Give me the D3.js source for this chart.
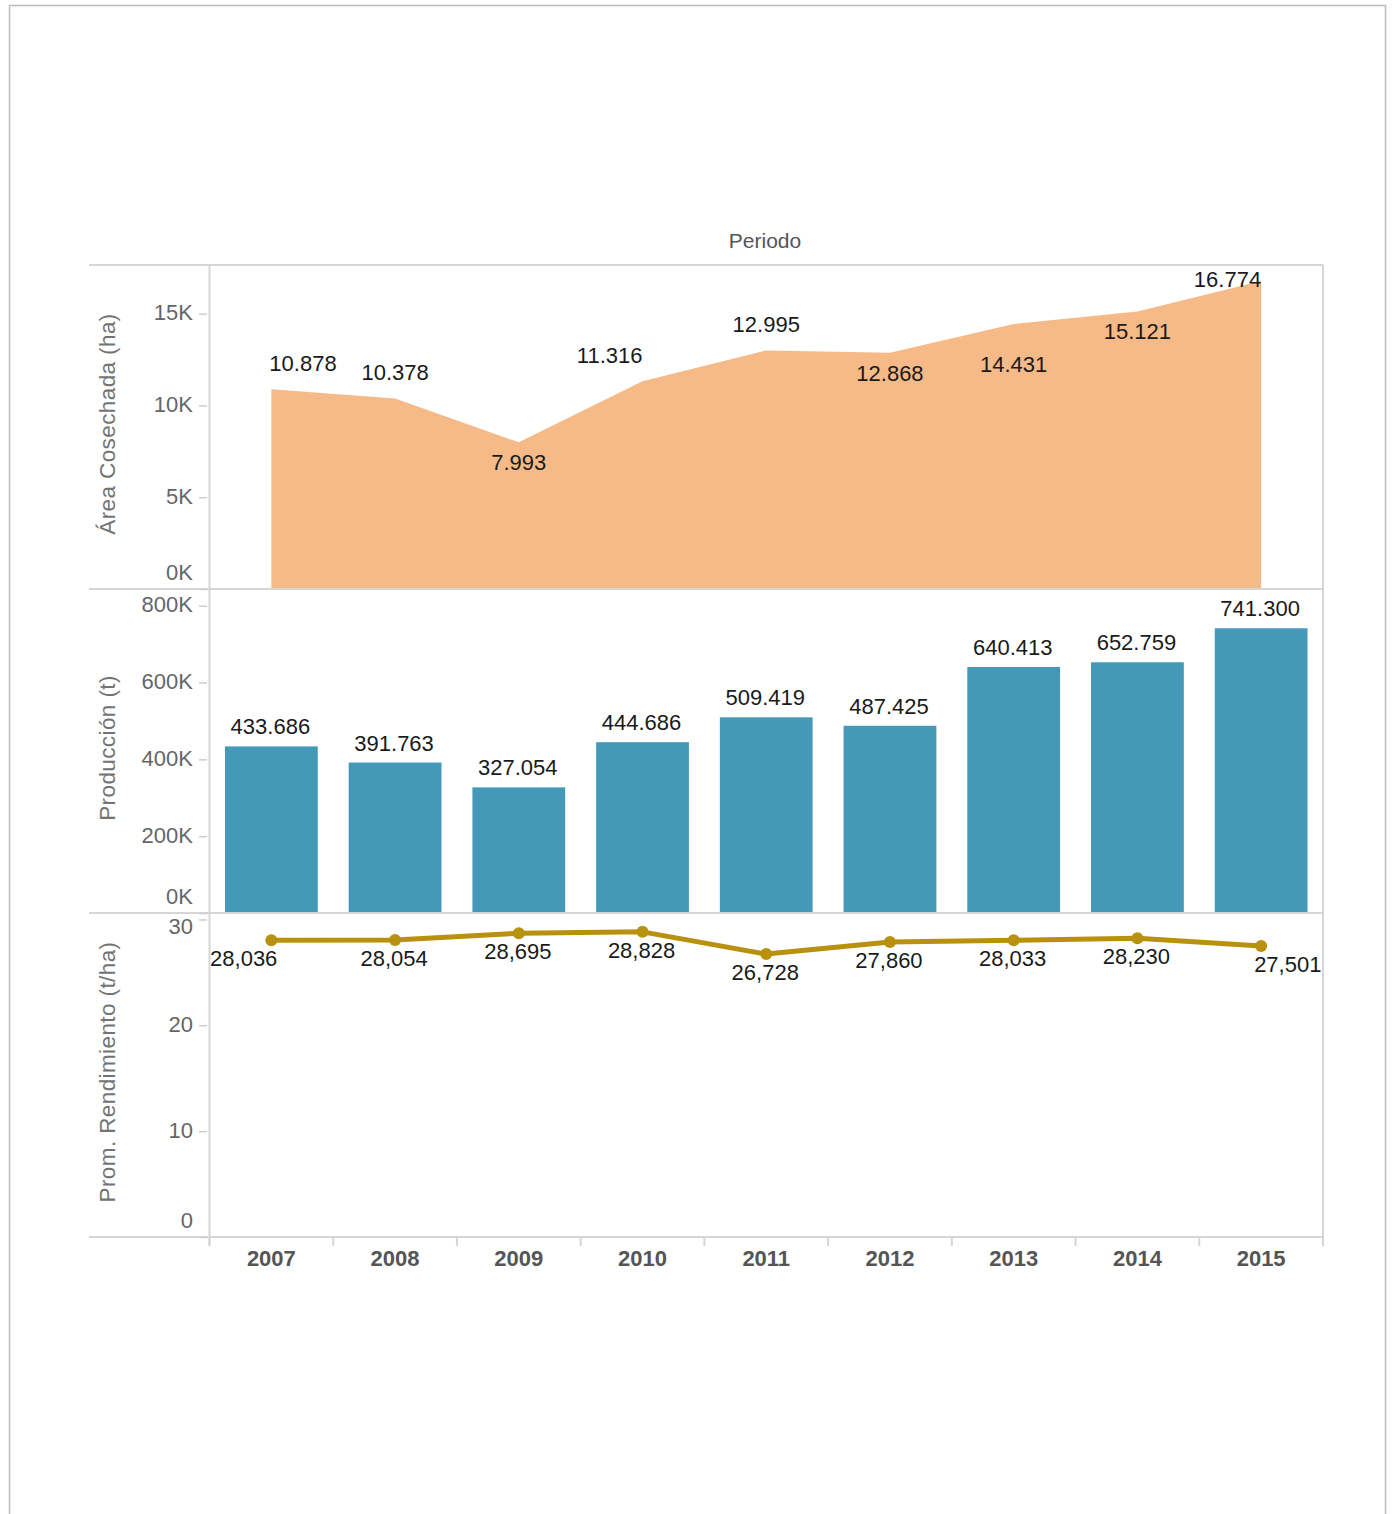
<!DOCTYPE html>
<html>
<head>
<meta charset="utf-8">
<script src="https://cdn.jsdelivr.net/npm/d3@7/dist/d3.min.js"></script>
<style>
  html, body { margin: 0; padding: 0; background: #fff; }
  svg text { font-family: "Liberation Sans", Arial, sans-serif; }
</style>
</head>
<body>
<svg id="chart" width="1394" height="1514"></svg>
<script>
// ---- Data ----
const years = ["2007","2008","2009","2010","2011","2012","2013","2014","2015"];
const areaValues = [10878, 10378, 7993, 11316, 12995, 12868, 14431, 15121, 16774];
const areaLabels = ["10.878","10.378","7.993","11.316","12.995","12.868","14.431","15.121","16.774"];
const areaLabelPlacement = ["above-start","above","below","above-end","above","below","below-far","below","above-end"];
const prodValues = [433686, 391763, 327054, 444686, 509419, 487425, 640413, 652759, 741300];
const prodLabels = ["433.686","391.763","327.054","444.686","509.419","487.425","640.413","652.759","741.300"];
const yieldValues = [28.036, 28.054, 28.695, 28.828, 26.728, 27.860, 28.033, 28.230, 27.501];
const yieldLabels = ["28,036","28,054","28,695","28,828","26,728","27,860","28,033","28,230","27,501"];
const yieldLabelPlacement = ["below-end","below","below","below","below","below","below","below","below-start"];
const areaTicks = [0, 5000, 10000, 15000];
const prodTicks = [0, 200000, 400000, 600000, 800000];
const yieldTicks = [0, 10, 20, 30];

// ---- Layout ----
const svg = d3.select("#chart");
const left = 209.5, right = 1323;
const panes = [265, 589, 913, 1237];
const gridColor = "#d6d6d6";

// outer border
svg.append("path").attr("d", "M9.5,1514 V5.5 H1385.5 V1514")
  .attr("fill", "none").attr("stroke", "#bdbdbd").attr("stroke-width", 1.5);

const x = d3.scaleBand().domain(years).range([left, right]).paddingInner(0.25).paddingOuter(0.125);
const cx = d => x(d) + x.bandwidth() / 2;

const yArea = d3.scaleLinear().domain([0, 17650]).range([panes[1], panes[0]]);
const yProd = d3.scaleLinear().domain([0, 843500]).range([panes[2], panes[1]]);
const yYield = d3.scaleLinear().domain([0, 30.61]).range([panes[3], panes[2]]);

// header
svg.append("text").attr("x", 765).attr("y", 248).attr("text-anchor", "middle")
  .attr("font-size", 21).attr("fill", "#555").text("Periodo");

// ---- Area panel ----
const areaGen = d3.area().x((d, i) => cx(years[i])).y0(yArea(0)).y1(d => yArea(d));
svg.append("path").datum(areaValues).attr("d", areaGen).attr("fill", "#F5BA87");

const lblFont = 22, lblColor = "#1a1a1a";
svg.append("g").selectAll("text").data(areaValues).join("text")
  .attr("font-size", lblFont).attr("fill", lblColor)
  .attr("x", (d, i) => cx(years[i]) + (areaLabelPlacement[i].endsWith("start") ? -2 : 0))
  .attr("text-anchor", (d, i) => {
    const p = areaLabelPlacement[i];
    return p.endsWith("start") ? "start" : p.endsWith("end") ? "end" : "middle";
  })
  .attr("y", (d, i) => {
    const p = areaLabelPlacement[i];
    const py = yArea(d);
    let b = p.startsWith("above") ? py - 18 : (p === "below-far" ? py + 48 : py + 28);
    return Math.max(b, panes[0] + 22);
  })
  .text((d, i) => areaLabels[i]);

// ---- Bar panel ----
svg.append("g").selectAll("rect").data(prodValues).join("rect")
  .attr("x", (d, i) => x(years[i])).attr("width", x.bandwidth())
  .attr("y", d => yProd(d)).attr("height", d => yProd(0) - yProd(d))
  .attr("fill", "#4499B9");
svg.append("g").selectAll("text").data(prodValues).join("text")
  .attr("font-size", lblFont).attr("fill", lblColor).attr("text-anchor", "middle")
  .attr("x", (d, i) => cx(years[i]) - 1)
  .attr("y", d => Math.max(yProd(d) - 12, panes[1] + 22))
  .text((d, i) => prodLabels[i]);

// ---- Line panel ----
const lineGen = d3.line().x((d, i) => cx(years[i])).y(d => yYield(d));
svg.append("path").datum(yieldValues).attr("d", lineGen)
  .attr("fill", "none").attr("stroke", "#B8910F").attr("stroke-width", 5).attr("stroke-linejoin", "round");
svg.append("g").selectAll("circle").data(yieldValues).join("circle")
  .attr("cx", (d, i) => cx(years[i])).attr("cy", d => yYield(d)).attr("r", 6)
  .attr("fill", "#B8910F");
svg.append("g").selectAll("text").data(yieldValues).join("text")
  .attr("font-size", lblFont).attr("fill", lblColor)
  .attr("text-anchor", (d, i) => {
    const p = yieldLabelPlacement[i];
    return p.endsWith("start") ? "start" : p.endsWith("end") ? "end" : "middle";
  })
  .attr("x", (d, i) => {
    const p = yieldLabelPlacement[i];
    return cx(years[i]) + (p.endsWith("end") ? 6 : p.endsWith("start") ? -7 : -1);
  })
  .attr("y", d => yYield(d) + 26)
  .text((d, i) => yieldLabels[i]);

// ---- Grid / separators ----
panes.forEach(py => {
  svg.append("line").attr("x1", 89).attr("x2", right).attr("y1", py).attr("y2", py)
    .attr("stroke", gridColor).attr("stroke-width", 2);
});
svg.append("line").attr("x1", left).attr("x2", left).attr("y1", panes[0]).attr("y2", panes[3] + 9)
  .attr("stroke", gridColor).attr("stroke-width", 2);
svg.append("line").attr("x1", right).attr("x2", right).attr("y1", panes[0]).attr("y2", panes[3] + 9)
  .attr("stroke", gridColor).attr("stroke-width", 2);

// ---- Y axes ----
function yAxis(scale, ticks, fmt, top, bottom, title) {
  const g = svg.append("g").attr("transform", "translate(207,0)")
    .call(d3.axisLeft(scale).tickValues(ticks).tickFormat(fmt).tickSize(8).tickPadding(6));
  g.select(".domain").remove();
  g.selectAll(".tick line").attr("stroke", "#cfcfcf").attr("stroke-width", 1.5);
  g.selectAll(".tick text").attr("font-size", 22).attr("fill", "#666")
    .attr("font-family", "Liberation Sans, Arial, sans-serif")
    .attr("dy", null)
    .attr("y", d => {
      const ty = scale(d);
      let b = ty + 6;
      b = Math.min(b, bottom - 10);
      b = Math.max(b, top + 20);
      return b - ty;
    });
  svg.append("text")
    .attr("transform", `translate(115,${(top + bottom) / 2 - 3}) rotate(-90)`)
    .attr("text-anchor", "middle").attr("font-size", 22.5).attr("letter-spacing", 0.4)
    .attr("fill", "#737373")
    .text(title);
}
yAxis(yArea, areaTicks, d => d / 1000 + "K", panes[0], panes[1], "Área Cosechada (ha)");
yAxis(yProd, prodTicks, d => d / 1000 + "K", panes[1], panes[2], "Producción (t)");
yAxis(yYield, yieldTicks, d => String(d), panes[2], panes[3], "Prom. Rendimiento (t/ha)");

// ---- X axis ----
const step = x.step();
const edges = d3.range(years.length + 1).map(i => left + i * step);
svg.append("g").selectAll("line").data(edges).join("line")
  .attr("x1", d => d).attr("x2", d => d).attr("y1", panes[3]).attr("y2", panes[3] + 9)
  .attr("stroke", gridColor).attr("stroke-width", 2);
svg.append("g").selectAll("text").data(years).join("text")
  .attr("x", d => cx(d)).attr("y", 1266).attr("text-anchor", "middle")
  .attr("font-size", 22).attr("font-weight", "bold").attr("fill", "#555")
  .text(d => d);
</script>
</body>
</html>
